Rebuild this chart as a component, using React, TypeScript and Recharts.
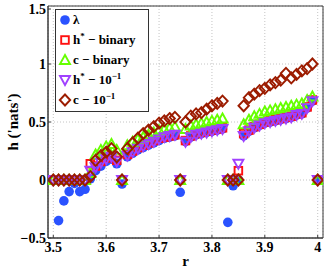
import React from 'react';
import { ScatterChart, Scatter, XAxis, YAxis, CartesianGrid, ReferenceArea } from 'recharts';

const rValues = [
  3.50, 3.51, 3.52, 3.53, 3.54, 3.55, 3.56, 3.57, 3.58, 3.59,
  3.60, 3.61, 3.62, 3.63, 3.64, 3.65, 3.66, 3.67, 3.68, 3.69,
  3.70, 3.71, 3.72, 3.73, 3.74, 3.75, 3.76, 3.77, 3.78, 3.79,
  3.80, 3.81, 3.82, 3.83, 3.84, 3.85, 3.86, 3.87, 3.88, 3.89,
  3.90, 3.91, 3.92, 3.93, 3.94, 3.95, 3.96, 3.97, 3.98, 3.99,
  4.00,
];

const lambdaValues: (number | null)[] = [
  null, -0.35, -0.18, -0.10, -0.03, -0.10, -0.08, 0.01, 0.08, 0.12,
  0.16, 0.18, 0.14, -0.035, 0.20, 0.23, 0.26, 0.28, 0.30, 0.32,
  0.34, 0.36, 0.37, 0.38, -0.106, 0.33, 0.37, 0.39, 0.40, 0.41,
  0.42, 0.43, 0.44, -0.365, -0.05, 0.0, 0.38, 0.42, 0.45, 0.47,
  0.49, 0.50, 0.51, 0.52, 0.53, 0.54, 0.56, 0.57, 0.62, 0.68,
  0.0,
];

const hStarBinary = [
  0, 0, 0, 0, 0, 0, 0, 0.14, 0.12, 0.16,
  0.19, 0.21, 0.17, 0, 0.22, 0.25, 0.28, 0.30, 0.32, 0.34,
  0.36, 0.37, 0.38, 0.39, 0, 0.34, 0.38, 0.40, 0.41, 0.42,
  0.43, 0.44, 0.45, 0, 0, 0.08, 0.40, 0.43, 0.46, 0.48,
  0.50, 0.51, 0.52, 0.53, 0.54, 0.55, 0.57, 0.58, 0.63, 0.69,
  0,
];

const cBinary = [
  0, 0, 0, 0, 0, 0, 0, 0.06, 0.22, 0.26,
  0.29, 0.31, 0.26, 0, 0.30, 0.33, 0.35, 0.37, 0.39, 0.41,
  0.43, 0.44, 0.45, 0.46, 0, 0.44, 0.47, 0.48, 0.49, 0.50,
  0.51, 0.52, 0.53, 0, 0, 0, 0.48, 0.52, 0.55, 0.57,
  0.59, 0.60, 0.61, 0.62, 0.63, 0.64, 0.65, 0.66, 0.69, 0.72,
  0,
];

const hStar10 = [
  0, 0, 0, 0, 0, 0, 0, 0.08, 0.11, 0.15,
  0.18, 0.20, 0.16, 0, 0.21, 0.24, 0.27, 0.29, 0.31, 0.33,
  0.35, 0.37, 0.38, 0.39, 0, 0.33, 0.37, 0.39, 0.40, 0.41,
  0.42, 0.43, 0.44, 0, 0, 0.14, 0.38, 0.42, 0.45, 0.47,
  0.49, 0.50, 0.51, 0.52, 0.53, 0.54, 0.56, 0.57, 0.62, 0.68,
  0,
];

const c10 = [
  0, 0, 0, 0, 0, 0, 0, 0.03, 0.17, 0.21,
  0.24, 0.27, 0.20, 0, 0.27, 0.32, 0.36, 0.40, 0.43, 0.46,
  0.49, 0.51, 0.53, 0.54, 0, 0.50, 0.55, 0.57, 0.58, 0.61,
  0.64, 0.66, 0.68, 0, 0, 0, 0.64, 0.71, 0.74, 0.77,
  0.79, 0.82, 0.84, 0.86, 0.92, 0.88, 0.91, 0.94, 0.96, 1.00,
  0,
];

const xTicks = [3.5, 3.6, 3.7, 3.8, 3.9, 4];
const yTicks = [-0.5, 0, 0.5, 1, 1.5];
const xDomain: [number, number] = [3.49, 4.01];
const yDomain: [number, number] = [-0.5, 1.5];

const COLORS = {
  lambda: '#2a52ff',
  hB: '#ff1010',
  cB: '#66ff00',
  h10: '#a040ff',
  c10: '#9c1c00',
};

const AXIS = '#3a3a3a';
const FONT = '"Liberation Serif", "Times New Roman", serif';

type Kind = 'circle' | 'square' | 'triangle' | 'vtriangle' | 'diamond';

const toPoints = (vals: (number | null)[]) =>
  rValues
    .map((r, i) => ({ r, v: vals[i] }))
    .filter((p) => p.v !== null && p.v !== undefined);

function markerEl(kind: Kind, cx: number, cy: number) {
  switch (kind) {
    case 'circle':
      return <circle cx={cx} cy={cy} r={4.8} fill={COLORS.lambda} />;
    case 'square':
      return (
        <rect x={cx - 3.8} y={cy - 3.8} width={7.6} height={7.6} fill="none" stroke={COLORS.hB} strokeWidth={1.9} />
      );
    case 'triangle':
      return (
        <polygon
          points={`${cx},${cy - 5} ${cx + 5},${cy + 4} ${cx - 5},${cy + 4}`}
          fill="none"
          stroke={COLORS.cB}
          strokeWidth={1.9}
        />
      );
    case 'vtriangle':
      return (
        <polygon
          points={`${cx - 5},${cy - 4} ${cx + 5},${cy - 4} ${cx},${cy + 5}`}
          fill="none"
          stroke={COLORS.h10}
          strokeWidth={1.9}
        />
      );
    case 'diamond':
    default:
      return (
        <polygon
          points={`${cx},${cy - 5.5} ${cx + 5.2},${cy} ${cx},${cy + 5.5} ${cx - 5.2},${cy}`}
          fill="none"
          stroke={COLORS.c10}
          strokeWidth={1.9}
        />
      );
  }
}

const shapeFor = (kind: Kind) => (props: any) => {
  const { cx, cy } = props;
  if (cx == null || cy == null) return <g />;
  return markerEl(kind, cx, cy);
};

const supStyle: React.CSSProperties = { fontSize: 9, verticalAlign: 'super', lineHeight: 0 };

const legendItems: { kind: Kind; label: React.ReactNode }[] = [
  { kind: 'circle', label: <span>λ</span> },
  { kind: 'square', label: <span>h<span style={supStyle}>*</span> − binary</span> },
  { kind: 'triangle', label: <span>c − binary</span> },
  { kind: 'vtriangle', label: <span>h<span style={supStyle}>*</span> − 10<span style={supStyle}>−1</span></span> },
  { kind: 'diamond', label: <span>c − 10<span style={supStyle}>−1</span></span> },
];

const LegendBox = () => (
  <div
    style={{
      position: 'absolute',
      left: 55,
      top: 9,
      width: 94,
      height: 103,
      border: '1px solid #333',
      background: '#fff',
      boxSizing: 'border-box',
      fontFamily: FONT,
      fontWeight: 'bold',
      fontSize: 13,
      color: '#000',
    }}
  >
    {legendItems.map((it, i) => (
      <div key={i} style={{ display: 'flex', alignItems: 'center', height: 20, lineHeight: '20px', whiteSpace: 'nowrap' }}>
        <svg width={16} height={16} style={{ marginLeft: 1, flex: 'none' }}>
          {markerEl(it.kind, 8, 8)}
        </svg>
        {it.label}
      </div>
    ))}
  </div>
);

const fmtY = (v: number) => (v < 0 ? '−' + Math.abs(v) : String(v));

const XTick = (props: any) => {
  const { x, y, payload } = props;
  const axisY = y - 4;
  return (
    <g>
      <line x1={x} y1={axisY} x2={x} y2={axisY - 3} stroke={AXIS} />
      <text x={x} y={y} dy="0.71em" textAnchor="middle" fontFamily={FONT} fontWeight="bold" fontSize={14} fill="#000">
        {String(payload.value)}
      </text>
    </g>
  );
};

const YTick = (props: any) => {
  const { x, y, payload } = props;
  const axisX = x + 2;
  return (
    <g>
      <line x1={axisX} y1={y} x2={axisX + 3} y2={y} stroke={AXIS} />
      <text x={x} y={y} dy="0.355em" textAnchor="end" fontFamily={FONT} fontWeight="bold" fontSize={14} fill="#000">
        {fmtY(payload.value)}
      </text>
    </g>
  );
};

const YLabel = (props: any) => {
  const vb = props.viewBox || {};
  const cy = (vb.y ?? 0) + (vb.height ?? 0) / 2;
  const cx = 13;
  return (
    <text
      x={cx}
      y={cy}
      transform={`rotate(-90, ${cx}, ${cy})`}
      textAnchor="middle"
      dominantBaseline="central"
      fontFamily={FONT}
      fontWeight="bold"
      fontSize={15}
      fill="#000"
    >
      h ('nats')
    </text>
  );
};

export default function App() {
  return (
    <div style={{ position: 'absolute', left: 0, top: 0, width: 335, height: 278, background: '#fff' }}>
      <ScatterChart width={335} height={278} margin={{ top: 6, right: 12, bottom: 0, left: 0 }}>
        <CartesianGrid strokeDasharray="1 2" stroke="#c4c4c4" />
        <XAxis
          type="number"
          dataKey="r"
          domain={xDomain}
          ticks={xTicks}
          allowDataOverflow
          height={40}
          tick={<XTick />}
          tickLine={false}
          tickSize={2}
          tickMargin={2}
          axisLine={{ stroke: AXIS }}
          label={{ value: 'r', position: 'insideBottom', offset: 12, style: { fontFamily: FONT, fontWeight: 'bold', fontSize: 15, fill: '#000' } }}
        />
        <YAxis
          type="number"
          dataKey="v"
          domain={yDomain}
          ticks={yTicks}
          allowDataOverflow
          width={48}
          tick={<YTick />}
          tickLine={false}
          tickSize={2}
          tickMargin={0}
          axisLine={{ stroke: AXIS }}
          label={<YLabel />}
        />
        <ReferenceArea x1={xDomain[0]} x2={xDomain[1]} y1={yDomain[0]} y2={yDomain[1]} fill="none" stroke={AXIS} strokeOpacity={1} />
        <Scatter name="λ" data={toPoints(lambdaValues)} shape={shapeFor('circle')} isAnimationActive={false} />
        <Scatter name="h* - binary" data={toPoints(hStarBinary)} shape={shapeFor('square')} isAnimationActive={false} />
        <Scatter name="c - binary" data={toPoints(cBinary)} shape={shapeFor('triangle')} isAnimationActive={false} />
        <Scatter name="h* - 10^-1" data={toPoints(hStar10)} shape={shapeFor('vtriangle')} isAnimationActive={false} />
        <Scatter name="c - 10^-1" data={toPoints(c10)} shape={shapeFor('diamond')} isAnimationActive={false} />
      </ScatterChart>
      <LegendBox />
    </div>
  );
}
